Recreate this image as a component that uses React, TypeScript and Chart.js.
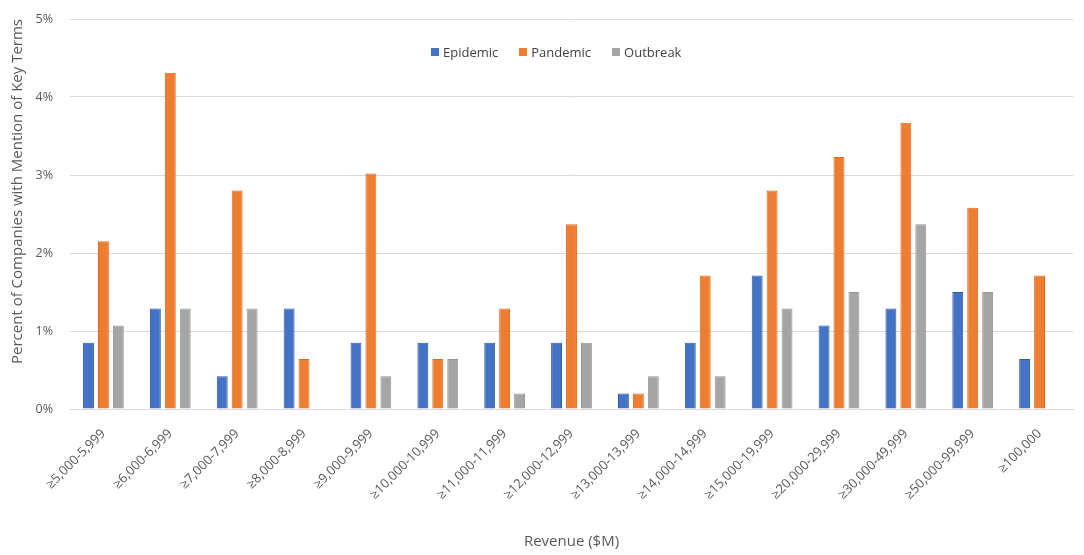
import React, { useEffect, useRef } from "react";
import { Chart, registerables } from "chart.js";

Chart.register(...registerables);

const categories = [
  "≥5,000-5,999",
  "≥6,000-6,999",
  "≥7,000-7,999",
  "≥8,000-8,999",
  "≥9,000-9,999",
  "≥10,000-10,999",
  "≥11,000-11,999",
  "≥12,000-12,999",
  "≥13,000-13,999",
  "≥14,000-14,999",
  "≥15,000-19,999",
  "≥20,000-29,999",
  "≥30,000-49,999",
  "≥50,000-99,999",
  "≥100,000",
];

const epidemic = [0.85, 1.29, 0.42, 1.29, 0.85, 0.85, 0.85, 0.85, 0.2, 0.85, 1.71, 1.07, 1.29, 1.5, 0.64];
const pandemic = [2.15, 4.31, 2.8, 0.64, 3.02, 0.64, 1.29, 2.37, 0.2, 1.71, 2.8, 3.23, 3.67, 2.58, 1.71];
const outbreak = [1.07, 1.29, 1.29, 0, 0.42, 0.64, 0.2, 0.85, 0.42, 0.42, 1.29, 1.5, 2.37, 1.5, 0];

const yTickLabels = ["0%", "1%", "2%", "3%", "4%", "5%"];

const BLUE = "#4472C4";
const ORANGE = "#ED7D31";
const GRAY = "#A5A5A5";
const TEXT = "#595959";
const FONT = "'Open Sans', 'Noto Sans', sans-serif";

const legendItems = [
  { label: "Epidemic", color: BLUE },
  { label: "Pandemic", color: ORANGE },
  { label: "Outbreak", color: GRAY },
];

const App: React.FC = () => {
  const canvasRef = useRef<HTMLCanvasElement>(null);
  const chartRef = useRef<Chart | null>(null);

  useEffect(() => {
    document.body.style.margin = "0";
    if (!canvasRef.current) return;
    const ctx = canvasRef.current.getContext("2d");
    if (!ctx) return;
    if (chartRef.current) chartRef.current.destroy();

    const barStyle = {
      borderWidth: 1,
      categoryPercentage: 0.67,
      barPercentage: 0.73,
    };

    chartRef.current = new Chart(ctx, {
      type: "bar",
      data: {
        labels: categories,
        datasets: [
          { label: "Epidemic", data: epidemic, backgroundColor: BLUE, borderColor: "#2F5AA8", ...barStyle },
          { label: "Pandemic", data: pandemic, backgroundColor: ORANGE, borderColor: "#E0691C", ...barStyle },
          { label: "Outbreak", data: outbreak, backgroundColor: GRAY, borderColor: "#969696", ...barStyle },
        ],
      },
      options: {
        animation: false,
        responsive: false,
        maintainAspectRatio: false,
        layout: { padding: { top: 19, right: 11, left: 0, bottom: 0 } },
        plugins: {
          legend: { display: false },
          tooltip: { enabled: false },
        },
        scales: {
          x: {
            grid: { display: false },
            border: { display: true, color: "#D9D9D9" },
            ticks: {
              color: TEXT,
              font: { family: FONT, size: 13 },
              minRotation: 45,
              maxRotation: 45,
              padding: 9,
              autoSkip: false,
            },
            title: {
              display: true,
              text: "Revenue ($M)",
              color: TEXT,
              font: { family: FONT, size: 15 },
              padding: { top: 0, bottom: 4 },
            },
            afterFit: (axis: any) => {
              axis.height = 146;
            },
          },
          y: {
            min: 0,
            max: 5,
            grid: { color: "#D9D9D9", drawTicks: false },
            border: { display: false },
            ticks: {
              stepSize: 1,
              color: TEXT,
              font: { family: FONT, size: 12.5 },
              padding: 17,
              callback: (_v: any, i: number) => yTickLabels[i],
            },
            title: {
              display: true,
              text: "Percent of Companies with Mention of Key Terms",
              color: TEXT,
              align: "end",
              font: { family: FONT, size: 15 },
              padding: { top: 9, bottom: 0 },
            },
            afterFit: (axis: any) => {
              axis.width = 70;
              axis.paddingTop = 0;
              axis.paddingBottom = 0;
            },
          },
        },
      },
    });

    return () => {
      if (chartRef.current) {
        chartRef.current.destroy();
        chartRef.current = null;
      }
    };
  }, []);

  return (
    <div style={{ position: "relative", width: 1084, height: 555, background: "#fff" }}>
      <canvas ref={canvasRef} width={1084} height={555} style={{ display: "block" }} />
      <div
        style={{
          position: "absolute",
          left: 431,
          top: 43,
          display: "flex",
          alignItems: "center",
          gap: 21,
          fontFamily: FONT,
          fontSize: 13,
          color: "#404040",
          lineHeight: "18px",
        }}
      >
        {legendItems.map((it) => (
          <div key={it.label} style={{ display: "flex", alignItems: "center", gap: 4 }}>
            <span style={{ width: 8, height: 8, background: it.color, display: "inline-block" }} />
            <span>{it.label}</span>
          </div>
        ))}
      </div>
    </div>
  );
};

export default App;
